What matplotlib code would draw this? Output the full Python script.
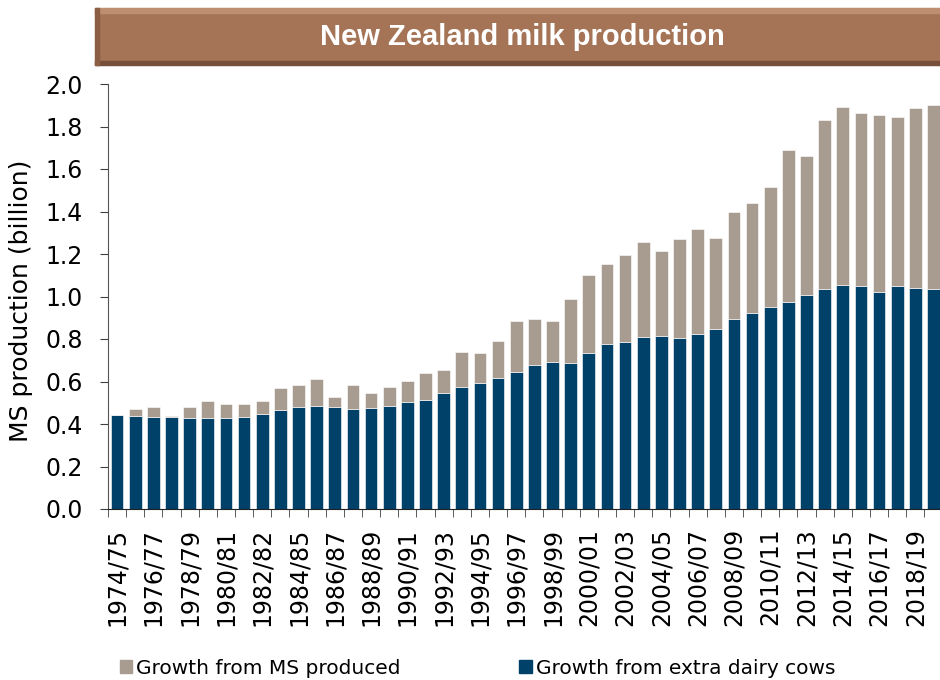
import matplotlib
matplotlib.use('Agg')
import matplotlib.pyplot as plt
from matplotlib.patches import Rectangle, Patch
import numpy as np

# seasons 1974/75 .. 2019/20
seasons = [f"{y}/{str(y + 1)[-2:]}" for y in range(1974, 2020)]

# labels shown on the axis (every other season, as printed in the original)
tick_labels = ['1974/75', '1976/77', '1978/79', '1980/81', '1982/82', '1984/85',
               '1986/87', '1988/89', '1990/91', '1992/93', '1994/95', '1996/97',
               '1998/99', '2000/01', '2002/03', '2004/05', '2006/07', '2008/09',
               '2010/11', '2012/13', '2014/15', '2016/17', '2018/19']

# navy part (growth from extra dairy cows), billion kg MS
extra_cows = [0.441, 0.438, 0.435, 0.432, 0.429, 0.430, 0.426, 0.432, 0.447, 0.465,
              0.479, 0.487, 0.479, 0.469, 0.476, 0.485, 0.504, 0.513, 0.548, 0.576,
              0.595, 0.618, 0.645, 0.678, 0.692, 0.687, 0.732, 0.776, 0.786, 0.811,
              0.814, 0.806, 0.822, 0.845, 0.894, 0.923, 0.951, 0.975, 1.005, 1.034,
              1.055, 1.050, 1.023, 1.048, 1.039, 1.034]

# total bar height (top of grey part)
total = [0.441, 0.469, 0.482, 0.440, 0.480, 0.508, 0.496, 0.496, 0.507, 0.568,
         0.582, 0.612, 0.527, 0.584, 0.545, 0.576, 0.602, 0.642, 0.656, 0.740,
         0.735, 0.792, 0.883, 0.895, 0.883, 0.986, 1.099, 1.155, 1.194, 1.257,
         1.216, 1.271, 1.319, 1.274, 1.396, 1.440, 1.516, 1.689, 1.662, 1.830,
         1.892, 1.865, 1.854, 1.843, 1.887, 1.900]

ms_growth = [t - c for t, c in zip(total, extra_cows)]

navy = '#00416a'
taupe = '#a89b8f'

fig = plt.figure(figsize=(9.4, 6.8), dpi=100)

# title banner
W, H = 940, 680
def fx(px): return px / W
def fy(py): return 1 - py / H

bx0, bx1, by0, by1 = 95, 945, 8, 65
fig.patches.append(Rectangle((fx(bx0), fy(by1)), fx(bx1 - bx0), (by1 - by0) / H,
                             transform=fig.transFigure, color='#a57456',
                             ec='#8a8a8a', lw=0.8, zorder=0))
fig.patches.append(Rectangle((fx(bx0), fy(by0 + 5)), fx(bx1 - bx0), 5 / H,
                             transform=fig.transFigure, color='#bd8e70', zorder=1))
fig.patches.append(Rectangle((fx(bx0), fy(by1)), fx(bx1 - bx0), 4 / H,
                             transform=fig.transFigure, color='#76503a', zorder=1))
fig.patches.append(Rectangle((fx(bx0), fy(by1)), fx(4), (by1 - by0) / H,
                             transform=fig.transFigure, color='#8c5f44', zorder=1))
fig.text(fx(522), fy(37), 'New Zealand milk production', color='white',
         fontsize=21, fontweight='bold', family='Liberation Sans',
         ha='center', va='center', zorder=3)

ax = fig.add_axes([fx(108), fy(509), fx(942.6 - 108), (509 - 84) / H])
x = np.arange(len(seasons))
ax.bar(x, extra_cows, width=0.7, color=navy, edgecolor='white', linewidth=0.4)
ax.bar(x, ms_growth, width=0.7, bottom=extra_cows, color=taupe,
       edgecolor='white', linewidth=0.4)

ax.set_xlim(-0.5, len(seasons) - 0.5)
ax.set_ylim(0, 2.0)
ax.set_yticks(np.arange(0, 2.01, 0.2))
ax.set_yticklabels([f"{v:.1f}" for v in np.arange(0, 2.01, 0.2)])
ax.set_xticks(x[::2])
ax.set_xticklabels(tick_labels, rotation=90)
ax.set_xticks(np.arange(-0.5, len(seasons), 1), minor=True)

ax.tick_params(axis='x', which='major', length=0, pad=13.5, labelsize=17)
ax.tick_params(axis='x', which='minor', length=6, direction='out', color='#404040')
ax.tick_params(axis='y', length=6, direction='out', color='#404040', pad=12, labelsize=17)

for s in ['top', 'right']:
    ax.spines[s].set_visible(False)
ax.spines['left'].set_color('#555555')
ax.spines['bottom'].set_color('#222222')

ax.set_ylabel('MS production (billion)', fontsize=18)
ax.yaxis.set_label_coords(-0.09, 0.49)

handles = [Patch(color=taupe, label='Growth from MS produced'),
           Patch(color=navy, label='Growth from extra dairy cows')]
fig.legend(handles=handles, loc='center left', bbox_to_anchor=(fx(120), fy(668)),
           ncol=2, frameon=False, fontsize=14.5, borderpad=0, borderaxespad=0,
           handlelength=0.6, handleheight=0.6, handletextpad=0.2, columnspacing=5.9)

fig.savefig('out.png', dpi=100)
